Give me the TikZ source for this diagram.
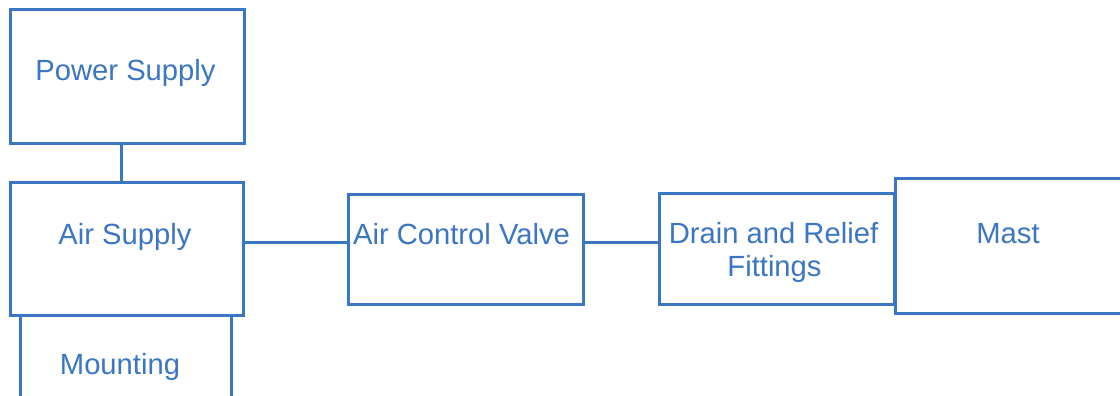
\documentclass[tikz,border=0pt]{standalone}
\usepackage{fontspec}
\setmainfont{Liberation Sans}
\definecolor{blu}{RGB}{59,118,196}
\begin{document}
\begin{tikzpicture}[x=1pt,y=-1pt,
  box/.style={draw=blu,line width=3pt,rectangle,inner sep=0pt,outer sep=0pt},
  open/.style={rectangle,inner sep=0pt,outer sep=0pt},
  txt/.style={text=blu,font=\fontsize{29.2}{33}\selectfont,anchor=base,inner sep=0pt},
  conn/.style={draw=blu,line width=3pt}]
\clip (0,0) rectangle (1120,396);
\fill[white] (0,0) rectangle (1120,396);
% boxes
\node[box,minimum width=234pt,minimum height=133pt] (ps) at (127,76.5) {};
\node[box,minimum width=233pt,minimum height=133pt] (as) at (126.5,248.5) {};
\node[open,minimum width=211pt,minimum height=120pt] (mt) at (125.5,376) {};
\node[box,minimum width=235pt,minimum height=110pt] (acv) at (465.5,249) {};
\node[box,minimum width=235pt,minimum height=111pt] (dr) at (776.5,248.5) {};
\node[box,minimum width=260pt,minimum height=135pt] (ma) at (1025,245.5) {};
% mounting sides
\draw[conn] (mt.north west) -- (mt.south west);
\draw[conn] (mt.north east) -- (mt.south east);
% texts
\node[txt] (tps) at (125.5,81) {Power Supply};
\node[txt] (tas) at (125,244) {Air Supply};
\node[txt] (tmt) at (120,374) {Mounting};
\node[txt] (tacv) at (461.5,244) {Air Control Valve};
\node[txt] (tdr1) at (773.5,243) {Drain and Relief};
\node[txt] (tdr2) at (774.5,276) {Fittings};
\node[txt] (tma) at (1008,243) {Mast};
% connectors
\draw[conn] (ps.south -| 121,0) -- (as.north -| 121,0);
\draw[conn] (as.east |- 0,242) -- (acv.west |- 0,242);
\draw[conn] (acv.east |- 0,242) -- (dr.west |- 0,242);
\end{tikzpicture}
\end{document}
